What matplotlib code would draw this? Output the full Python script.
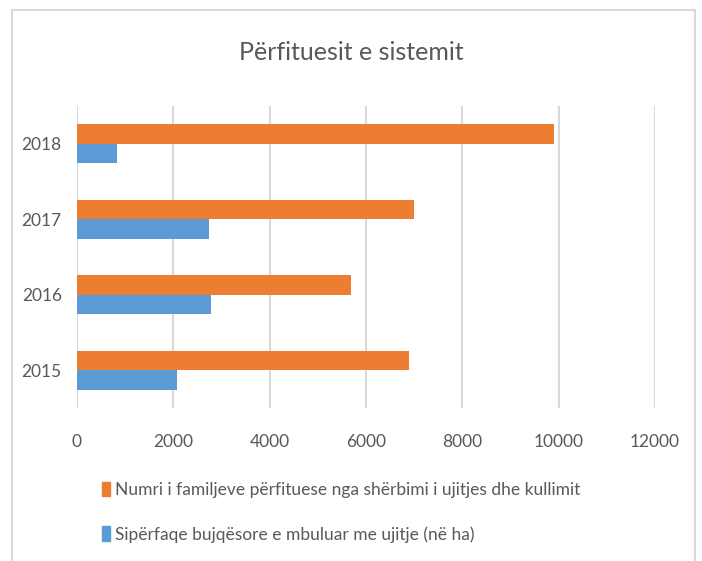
import matplotlib
matplotlib.use('Agg')
import matplotlib.pyplot as plt
from matplotlib.patches import Rectangle, Patch
import numpy as np

plt.rcParams['font.family'] = ['Lato', 'DejaVu Sans']

years = ['2015', '2016', '2017', '2018']
familje = [6900, 5680, 7000, 9900]
siperfaqe = [2070, 2780, 2740, 830]
label_familje = 'Numri i familjeve përfituese nga shërbimi i ujitjes dhe kullimit'
label_siperfaqe = 'Sipërfaqe bujqësore e mbuluar me ujitje (në ha)'
title = 'Përfituesit e sistemit'

orange = '#ED7D31'
blue = '#5B9BD5'
grey_txt = '#595959'
grid_col = '#d9d9d9'

fig = plt.figure(figsize=(7.02, 5.61), dpi=100)
# chart frame
fig.patches.append(Rectangle((12/702, -0.05), (695-12)/702, 1.05 - 10/561,
                             transform=fig.transFigure, fill=False,
                             edgecolor=grid_col, linewidth=1.5))

ax = fig.add_axes([77/702, 1-408/561, (655-77)/702, (408-106)/561])
y = np.arange(len(years))
h = 0.257
ax.barh(y + h/2, familje, height=h, color=orange, label=label_familje, zorder=3)
ax.barh(y - h/2, siperfaqe, height=h, color=blue, label=label_siperfaqe, zorder=3)

ax.set_xlim(0, 12000)
ax.set_ylim(-0.5, 3.5)
ax.set_xticks(range(0, 12001, 2000))
ax.set_yticks(y)
ax.set_yticklabels(years)
ax.xaxis.grid(True, color=grid_col, linewidth=1.5, zorder=0)
for s in ax.spines.values():
    s.set_visible(False)
ax.tick_params(axis='both', length=0, labelsize=12.5, labelcolor=grey_txt)
ax.tick_params(axis='x', pad=19)
ax.tick_params(axis='y', pad=11)

fig.text(0.5, 1-52/561, title, ha='center', va='center', fontsize=18, color=grey_txt)

handles = [Patch(color=orange), Patch(color=blue)]
fig.legend(handles, [label_familje, label_siperfaqe], loc='upper left',
           bbox_to_anchor=(102/702, 1-482/561), frameon=False, fontsize=12.5,
           labelcolor=grey_txt, handlelength=0.45, handleheight=0.9,
           handletextpad=0.3, labelspacing=1.6, borderpad=0, borderaxespad=0)

fig.savefig('out.png', dpi=100)
